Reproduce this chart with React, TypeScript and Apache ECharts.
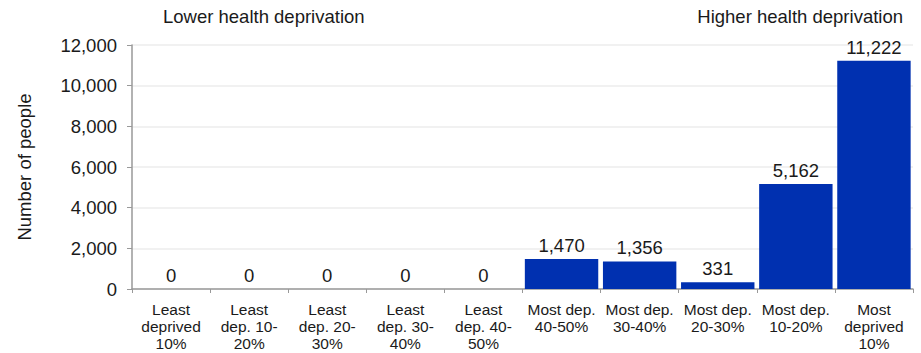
import React, { useEffect, useRef } from "react";
import * as echarts from "echarts";

const categories = [
  "Least\ndeprived\n10%",
  "Least\ndep. 10-\n20%",
  "Least\ndep. 20-\n30%",
  "Least\ndep. 30-\n40%",
  "Least\ndep. 40-\n50%",
  "Most dep.\n40-50%",
  "Most dep.\n30-40%",
  "Most dep.\n20-30%",
  "Most dep.\n10-20%",
  "Most\ndeprived\n10%",
];
const values = [0, 0, 0, 0, 0, 1470, 1356, 331, 5162, 11222];
const leftNote = "Lower health deprivation";
const rightNote = "Higher health deprivation";
const yAxisName = "Number of people";

const FONT = "'Liberation Sans', Arial, sans-serif";

export default function App() {
  const ref = useRef<HTMLDivElement>(null);
  useEffect(() => {
    if (!ref.current) return;
    const chart = echarts.init(ref.current, undefined, { renderer: "svg" });
    chart.setOption({
      animation: false,
      textStyle: { fontFamily: FONT },
      grid: { left: 132, right: 8, top: 45, bottom: 64 },
      graphic: [
        {
          type: "text",
          left: 163,
          top: 7,
          style: { text: leftNote, font: `18.5px ${FONT}`, fill: "#1a1a1a" },
        },
        {
          type: "text",
          right: 18,
          top: 7,
          style: { text: rightNote, font: `18.5px ${FONT}`, fill: "#1a1a1a" },
        },
      ],
      xAxis: {
        type: "category",
        data: categories,
        axisLine: { show: true, lineStyle: { color: "#999999", width: 1.5 } },
        axisTick: { show: true, length: 4, lineStyle: { color: "#999999" } },
        axisLabel: {
          interval: 0,
          color: "#1a1a1a",
          fontSize: 15.5,
          lineHeight: 17,
          margin: 12,
          fontFamily: FONT,
        },
      },
      yAxis: {
        type: "value",
        min: 0,
        max: 12000,
        interval: 2000,
        name: yAxisName,
        nameLocation: "middle",
        nameGap: 98,
        nameTextStyle: { fontSize: 18.5, color: "#1a1a1a", fontFamily: FONT },
        axisLine: { show: true, lineStyle: { color: "#999999", width: 1.5 } },
        axisTick: { show: true, length: 5, lineStyle: { color: "#999999" } },
        axisLabel: {
          color: "#1a1a1a",
          fontSize: 18.5,
          margin: 15,
          fontFamily: FONT,
          formatter: (v: number) => v.toLocaleString("en-US"),
        },
        splitLine: { show: true, lineStyle: { color: "#ececec", width: 1.5 } },
      },
      series: [
        {
          type: "bar",
          data: values,
          barCategoryGap: "6%",
          itemStyle: { color: "#0030B0" },
          label: {
            show: true,
            position: "top",
            distance: 4,
            color: "#1a1a1a",
            fontSize: 18.5,
            fontFamily: FONT,
            formatter: (p: any) => Number(p.value).toLocaleString("en-US"),
          },
        },
      ],
    });
    return () => chart.dispose();
  }, []);
  return <div ref={ref} style={{ width: 921, height: 353, position: "absolute", left: 0, top: 0 }} />;
}
